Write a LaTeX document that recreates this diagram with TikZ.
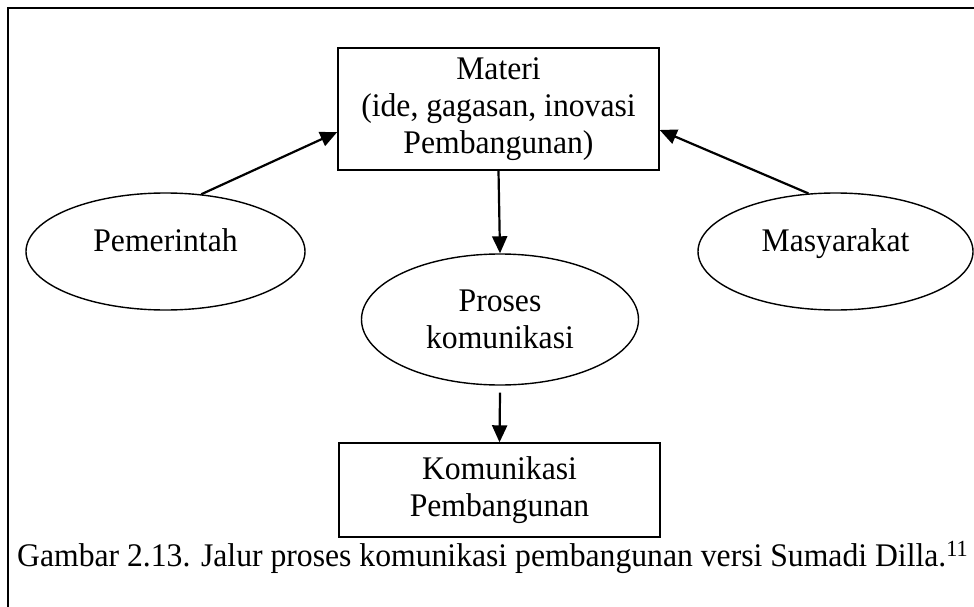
\documentclass[tikz,border=0pt]{standalone}
\usepackage{fontspec}
\setmainfont[FakeStretch=0.96]{Liberation Serif}
\usetikzlibrary{shapes.geometric,arrows.meta}
\tikzset{
  box/.style={draw, line width=1.4pt, rectangle, inner sep=0pt, align=center},
  oval/.style={draw, line width=1.4pt, ellipse, inner sep=0pt, align=center},
  conn/.style={line width=2.2pt, -{Triangle[length=17pt,width=15pt]}},
}
\begin{document}
\begin{tikzpicture}[x=1pt,y=-1pt,font=\fontsize{33}{37}\selectfont]
\useasboundingbox (0,0) rectangle (974,607);
\draw[line width=1.6pt] (8,640) -- (8,8) -- (1000,8);
\node[box, minimum width=321pt, minimum height=122pt] (mat) at (498.5,109) {Materi\\(ide, gagasan, inovasi\\Pembangunan)};
\node[oval, minimum width=279pt, minimum height=117pt, text height=12pt, text depth=12pt] (pem) at (165.5,251.5) {Pemerintah};
\node[oval, minimum width=275pt, minimum height=117pt, text height=12pt, text depth=12pt] (mas) at (835.5,251.5) {Masyarakat};
\node[oval, minimum width=277pt, minimum height=131pt] (pro) at (500,319.5) {Proses\\komunikasi};
\node[box, minimum width=321pt, minimum height=94pt] (kom) at (499.5,490) {Komunikasi\\Pembangunan};
\node[anchor=base west, inner sep=0pt] (cap) at (17,566) {Gambar 2.13. Jalur proses komunikasi pembangunan versi Sumadi Dilla.\textsuperscript{11}};
\draw[conn] (pem.58) -- ([yshift=-23pt]mat.west);
\draw[conn] (mas.115) -- ([yshift=-21pt]mat.east);
\draw[conn] (mat.south) -- (pro.north);
\draw[conn] ([yshift=-7pt]pro.south) -- (kom.north);
\end{tikzpicture}
\end{document}
